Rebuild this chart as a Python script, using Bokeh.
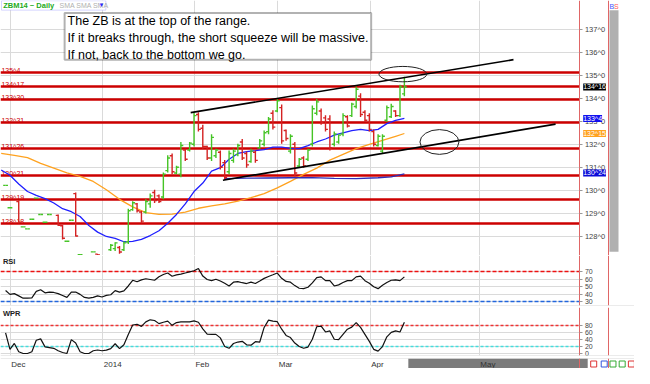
import numpy as np
import pandas as pd
from bokeh.plotting import figure
from bokeh.models import ColumnDataSource, FixedTicker, Label, BoxAnnotation, Range1d
from bokeh.layouts import column
from bokeh.embed import file_html
from bokeh.resources import INLINE
from bokeh.core.properties import value

# ---------------- data ----------------
bar_day = [0, 1, 3, 4, 5, 6, 7, 8, 9, 10, 12, 13, 14, 15, 16, 17, 20, 21,
           24, 25, 26, 27, 28, 29, 30, 31, 32, 33, 34, 35, 36, 37, 38, 39, 40, 41, 42, 43,
           44, 45, 46, 47, 48, 49, 50, 51, 52, 53, 54, 55, 56, 57, 58, 59, 60, 61, 62, 63,
           64, 65, 66, 67, 68, 69, 70, 71, 72, 73, 74, 75, 76, 77, 78, 79, 80, 81, 82, 83,
           84, 85, 86, 87, 88, 89, 90, 91]
bar_open = [130.21, 129.23, 129.50, 128.40, 128.31, 128.73, 129.65, 128.94, 128.60, 128.94, 128.90, 128.45,
            127.77, 128.69, 129.85, 127.19, 127.31, 127.21,
            127.40, 127.45, 127.50, 127.40, 127.75, 129.15, 129.40, 129.05, 129.05, 129.40, 129.90, 129.75,
            129.70, 130.85, 131.50, 130.75, 130.70, 131.75, 131.75, 132.00, 133.30, 132.70, 131.90, 131.40,
            131.50, 131.65, 131.20, 130.80, 131.30, 131.55, 132.10, 131.60, 131.25, 131.65, 131.85, 132.00,
            132.55, 133.35, 133.45, 133.60, 132.60, 131.70, 132.00, 131.05, 131.40, 131.35, 132.00, 133.35,
            133.45, 133.15, 133.10, 132.00, 132.10, 132.45, 133.20, 133.25, 133.65, 134.10, 133.40, 133.25,
            132.55, 131.95, 131.70, 133.05, 133.20, 133.45, 133.25, 134.20]
bar_high = [130.21, 129.23, 129.56, 128.40, 128.31, 128.73, 129.65, 128.94, 128.60, 128.94, 128.94, 128.48,
            127.77, 128.69, 129.90, 127.19, 127.31, 127.21,
            127.65, 127.73, 127.56, 127.77, 129.19, 129.52, 129.44, 129.10, 129.60, 129.85, 130.02, 129.81,
            130.77, 131.52, 131.60, 131.06, 132.10, 131.81, 132.10, 133.40, 133.40, 132.85, 131.94, 132.44,
            131.81, 131.73, 131.31, 131.73, 131.81, 132.02, 132.23, 131.69, 131.81, 131.73, 132.23, 132.60,
            133.19, 133.48, 133.98, 133.73, 132.65, 132.44, 132.10, 131.40, 131.48, 131.81, 133.69, 133.98,
            133.56, 133.27, 133.27, 132.56, 132.44, 133.35, 133.27, 133.81, 134.52, 134.23, 133.48, 133.35,
            132.65, 132.44, 132.44, 133.69, 133.77, 133.48, 134.60, 134.94]
bar_low = [130.21, 129.23, 128.56, 128.40, 128.31, 128.73, 129.65, 128.94, 128.60, 128.94, 128.44, 127.85,
           127.77, 128.69, 127.98, 127.19, 127.31, 127.17,
           127.35, 127.35, 127.23, 127.35, 127.65, 129.10, 129.02, 128.56, 128.98, 129.23, 129.44, 129.44,
           129.60, 130.77, 130.69, 130.69, 130.56, 131.27, 131.69, 131.90, 132.56, 131.81, 131.31, 131.27,
           131.40, 130.90, 130.44, 130.69, 131.19, 131.48, 131.31, 130.98, 131.19, 131.19, 131.81, 131.90,
           132.44, 132.65, 133.40, 132.02, 132.15, 131.60, 130.60, 130.98, 130.98, 131.27, 131.90, 133.27,
           132.85, 132.56, 131.73, 131.90, 132.02, 132.35, 132.73, 133.19, 133.56, 133.19, 132.98, 132.56,
           131.90, 131.90, 131.60, 132.98, 133.15, 133.19, 133.19, 134.10]
bar_close = [130.21, 129.23, 128.60, 128.40, 128.31, 128.73, 129.65, 128.94, 128.60, 128.94, 128.47, 127.90,
             127.77, 128.69, 128.00, 127.19, 127.31, 127.17,
             127.60, 127.70, 127.30, 127.70, 129.10, 129.45, 129.10, 128.65, 129.50, 129.75, 129.55, 129.50,
             130.70, 131.40, 130.80, 131.00, 131.95, 131.35, 132.05, 133.25, 132.65, 131.90, 131.40, 132.30,
             131.75, 131.00, 130.55, 131.60, 131.70, 131.95, 131.40, 131.10, 131.70, 131.30, 132.15, 132.50,
             133.10, 132.75, 133.90, 132.15, 132.25, 132.35, 130.75, 131.35, 131.05, 131.75, 133.55, 133.85,
             132.95, 132.65, 131.85, 132.45, 132.40, 133.25, 132.80, 133.75, 134.40, 133.30, 133.05, 132.65,
             132.00, 132.35, 132.35, 133.60, 133.65, 133.25, 134.50, 134.50]

ma_fast_day = [-1, 1, 3, 5, 7, 9, 11, 13, 15, 17, 19, 21, 23, 25, 27, 29, 31, 33, 35, 37, 39, 41, 43, 45,
               47, 49, 51, 53, 55, 57, 59, 61, 63, 65, 67, 69, 71, 73, 75, 77, 79, 81, 83, 85, 87, 89, 91]
ma_fast_val = [130.88, 130.65, 130.27, 129.94, 129.77, 129.63, 129.44, 129.19, 129.06, 128.85, 128.46, 128.17,
               127.98, 127.90, 127.75, 127.77, 127.85, 128.02, 128.23, 128.56, 128.94, 129.40, 129.94, 130.31,
               130.83, 130.98, 131.35, 131.60, 131.68, 131.72, 131.77, 131.88, 131.88, 131.82, 131.81, 131.94,
               132.10, 132.23, 132.40, 132.50, 132.60, 132.65, 132.60, 132.65, 132.90, 133.04, 133.13]
ma_slow_day = [-1, 2, 5, 8, 11, 14, 17, 20, 23, 26, 29, 32, 35, 38, 41, 44, 47, 50, 53, 56, 59, 62, 65, 68,
               71, 74, 77, 80, 83, 86, 89, 91]
ma_slow_val = [131.60, 131.52, 131.42, 131.17, 130.96, 130.75, 130.60, 130.38, 130.02, 129.60, 129.27, 129.02,
               128.94, 128.95, 129.04, 129.21, 129.31, 129.40, 129.52, 129.67, 129.85, 130.10, 130.38, 130.69,
               130.96, 131.31, 131.56, 131.81, 132.00, 132.17, 132.35, 132.47]
ma_long_day = [50, 55, 60, 65, 70, 75, 80, 85, 88, 91]
ma_long_val = [130.50, 130.52, 130.53, 130.54, 130.55, 130.51, 130.50, 130.54, 130.58, 130.71]

osc_day = list(range(0, 92))
rsi_val = [45, 40, 41, 38, 35, 35, 35.5, 44, 46, 42,
           43, 42.5, 41, 38.6, 36, 43, 43, 40, 36, 35,
           36, 38, 36.6, 38.6, 39.5, 45, 43, 44.5, 51, 58.5,
           56.5, 59, 60.5, 59.5, 58.5, 63, 66, 68, 63.8, 65.5,
           66.5, 68, 69.5, 71, 74, 64, 59.5, 58, 59.9, 57.5,
           54.5, 51, 56, 56.7, 55.3, 54.2, 56, 54.3, 57.5, 61,
           63.5, 65.7, 68, 61, 57, 56, 51.5, 48, 47.5, 49.4,
           55, 61.9, 63, 58, 58, 51, 52.5, 55.5, 58, 58,
           63, 64, 58, 54.5, 50, 47.5, 52, 55.5, 58.5, 59,
           58, 63]
wpr_val = [59.5, 12, 29, 5, 0, 0, 5, 38, 42, 19,
           17, 15, 8, 3, 0, 40, 30, 5, 0, 0,
           8, 10, 8, 9.7, 14, 28, 14, 25, 55, 82,
           84, 78, 91, 97, 95, 86, 90, 93, 81, 89,
           91, 91, 91, 94, 90, 71, 56, 55, 55, 45,
           20, 15, 28.7, 33, 35, 25, 24, 34, 33, 75,
           96, 93, 91.5, 70, 52, 46, 30, 20, 15, 18.5,
           41, 77, 79, 62, 65, 41, 40, 55, 70, 76,
           89, 75, 55, 35, 12, 7, 20, 48, 61, 65,
           62, 90]

level_val = [135.125, 134.53125, 133.9375, 132.96875, 131.8125, 130.65625, 129.59375, 128.5625]
level_lab = ["135^4", "134^17", "133^30", "132^31", "131^26", "130^21", "129^19", "128^18"]

price_ticks = [128, 129, 130, 131, 132, 133, 134, 135, 136, 137]
price_tick_lab = ["128^0", "129^0", "130^0", "131^0", "132^0", "133^0", "134^0", "135^0", "136^0", "137^0"]
rsi_ticks = [30, 40, 50, 60, 70]
wpr_ticks = [0, 20, 40, 60, 80]

month_pos = [1.07, 22.2, 43.1, 62.1, 83.2, 108.1]
month_lab = ["Dec", "2014", "Feb", "Mar", "Apr", "May"]
future_start, future_end = 91.9, 132.83

trend_x0 = [42.24, 49.59]
trend_y0 = [133.38, 130.43]
trend_x1 = [115.9, 125.5]
trend_y1 = [135.69, 132.88]

ell_x = [90.65, 99.0]
ell_y = [135.06, 132.10]
ell_w = [10.9, 8.9]
ell_h = [0.67, 1.08]

last_close = 134.5
fast_last, slow_last, long_last = 133.125, 132.46875, 130.75
marker_lab = ["134^16", "133^4", "132^15", "130^24"]

note = ("The ZB is at the top of the range.\n"
        "If it breaks through, the short squeeze will be massive.\n"
        "If not, back to the bottom we go.")

# ---------------- layout constants (day-index units) ----------------
FONT = "Liberation Sans"
UP, DOWN = "#45c425", "#d42222"
TICK = 0.55
GRID = "#dadada"
AXIS_RED = "#e06666"
FW = 634
X_START, X_AXIS, X_SIDE, X_END = -1.16, 131.05, 137.75, 143.51

df = pd.DataFrame(dict(day=bar_day, open=bar_open, high=bar_high, low=bar_low, close=bar_close))
df["color"] = np.where(df["close"] >= df["open"], UP, DOWN)
df["xl"] = df["day"] - TICK
df["xr"] = df["day"] + TICK
src = ColumnDataSource(df)

xr = Range1d(X_START, X_END)


def base_fig(h, yr, ticks, overrides=None, size="7.5px", bottom=0):
    f = figure(frame_width=FW, frame_height=h, x_range=xr, y_range=yr,
               output_backend="svg", toolbar_location=None,
               x_axis_location=None, y_axis_location="right",
               min_border_left=0, min_border_right=0, min_border_top=0, min_border_bottom=bottom)
    f.outline_line_color = None
    f.background_fill_color = "white"
    f.border_fill_color = "white"
    ax = f.yaxis[0]
    ax.fixed_location = X_AXIS
    ax.ticker = FixedTicker(ticks=ticks)
    if overrides:
        ax.major_label_overrides = overrides
    ax.major_label_text_font = FONT
    ax.major_label_text_font_size = size
    ax.major_label_text_color = "#444444"
    ax.major_tick_line_color = "#999999"
    ax.major_tick_out = 3
    ax.major_tick_in = 0
    ax.minor_tick_line_color = None
    ax.major_label_standoff = 2
    ax.axis_line_color = AXIS_RED
    f.ygrid.ticker = FixedTicker(ticks=ticks)
    f.ygrid.grid_line_color = GRID
    f.xgrid.ticker = FixedTicker(ticks=month_pos)
    f.xgrid.grid_line_color = GRID
    return f


def close_panel(f, yr):
    # blank the price-scale column and draw its borders
    f.quad(left=[X_AXIS], right=[X_END], bottom=[yr.start], top=[yr.end],
           fill_color="white", line_color=None)
    f.hspan(y=[yr.start], line_color="#d8d8d8", line_width=1)
    f.vspan(x=[X_SIDE - 0.2], line_color=AXIS_RED, line_width=1)


# ---------------- main price panel ----------------
yp = Range1d(127.15, 138.27)
p = base_fig(255, yp, price_ticks, dict(zip(price_ticks, price_tick_lab)))

p.hspan(y=level_val, line_color="#cc0000", line_width=2.4)
p.text(x=-0.95, y=level_val, text=level_lab, text_color="#cc0000",
       text_font=value(FONT), text_font_size="7px", text_baseline="bottom", y_offset=1.5)

p.line(ma_slow_day, ma_slow_val, line_color="#ffa21f", line_width=1.3)
p.line(ma_long_day, ma_long_val, line_color="#2e2eb8", line_width=1.3)
p.line(ma_fast_day, ma_fast_val, line_color="#1f1fff", line_width=1.3)

p.segment("day", "low", "day", "high", source=src, line_color="color", line_width=1.4)
p.segment("xl", "open", "day", "open", source=src, line_color="color", line_width=1.4)
p.segment("day", "close", "xr", "close", source=src, line_color="color", line_width=1.4)

p.segment(trend_x0, trend_y0, trend_x1, trend_y1, line_color="black", line_width=1.7)
p.ellipse(x=ell_x, y=ell_y, width=ell_w, height=ell_h, fill_color=None, line_color="#222222", line_width=1)

close_panel(p, yp)

# scroll column at the far right, placed in canvas pixels
p.add_layout(BoxAnnotation(left=609, right=618, left_units="screen", right_units="screen",
                           top=137.85, bottom=127.31,
                           fill_color="#b0b0b0", fill_alpha=1, line_color=None))
p.add_layout(Label(x=609, x_units="screen", y=138.02, text="B", text_color="#4455ff",
                   text_font=FONT, text_font_size="7px", text_baseline="middle"))
p.add_layout(Label(x=613.5, x_units="screen", y=138.02, text="S", text_color="#ff5555",
                   text_font=FONT, text_font_size="7px", text_baseline="middle"))

# header strip
p.add_layout(BoxAnnotation(left=-0.93, right=22.88, top=138.26, bottom=137.85,
                           fill_color="white", fill_alpha=1, line_color="#7878ff", line_width=1))
p.add_layout(Label(x=-0.55, y=138.055, text="ZBM14 ~ Daily", text_color="#22aa22",
                   text_font=FONT, text_font_size="7.5px", text_font_style="bold", text_baseline="middle"))
p.add_layout(Label(x=12.3, y=138.055, text="SMA SMA SMA", text_color="#b0b0b0",
                   text_font=FONT, text_font_size="7px", text_baseline="middle"))
p.add_layout(Label(x=21.2, y=138.055, text="\u25bc", text_color="#2a2aff",
                   text_font=FONT, text_font_size="6px", text_baseline="middle"))

# comment box
p.add_layout(BoxAnnotation(left=13.47, right=83.42, top=137.73, bottom=135.69,
                           fill_color="white", fill_alpha=1, line_color="black", line_width=2))
p.add_layout(Label(x=14.15, y=137.66, text=note, text_color="black", text_font=FONT,
                   text_font_size="12.5px", text_baseline="top", text_align="left", text_line_height=1.2))

# last-value markers on the price scale
for yv, lab, bg in zip([last_close, fast_last, slow_last, long_last], marker_lab,
                       ["black", "#1010ee", "#ffa21f", "#0a0ad8"]):
    p.add_layout(Label(x=X_AXIS + 0.75, y=yv, text=lab, text_color="white", text_font=FONT,
                       text_font_size="7px", text_baseline="middle", text_align="left",
                       background_fill_color=bg, background_fill_alpha=1))

# ---------------- RSI panel ----------------
yr_rsi = Range1d(25.4, 91)
r = base_fig(50, yr_rsi, rsi_ticks, size="7px", bottom=2)
r.hspan(y=[70], line_color="#ee1111", line_width=1.6, line_dash="4 2")
r.hspan(y=[30], line_color="#2266dd", line_width=1.6, line_dash="4 2")
r.line(osc_day, rsi_val, line_color="#111111", line_width=1.2)
close_panel(r, yr_rsi)
r.add_layout(Label(x=-0.6, y=89, text="RSI", text_color="#222222", text_font=FONT,
                   text_font_size="7.5px", text_font_style="bold", text_baseline="top"))

# ---------------- WPR panel ----------------
yr_wpr = Range1d(-5.75, 132.4)
w = base_fig(48, yr_wpr, wpr_ticks, size="7px", bottom=2)
w.hspan(y=[80], line_color="#ee3333", line_width=1.4, line_dash="3 2")
w.hspan(y=[20], line_color="#44dddd", line_width=1.4, line_dash="3 2")
w.line(osc_day, wpr_val, line_color="#111111", line_width=1.2)
close_panel(w, yr_wpr)
w.add_layout(Label(x=-0.6, y=129, text="WPR", text_color="#222222", text_font=FONT,
                   text_font_size="7.5px", text_font_style="bold", text_baseline="top"))

# ---------------- time strip ----------------
t = figure(frame_width=FW, frame_height=11, x_range=xr, y_range=Range1d(0, 1),
           output_backend="svg", toolbar_location=None, x_axis_location=None, y_axis_location=None,
           min_border=0)
t.outline_line_color = None
t.grid.visible = False
t.hspan(y=[1], line_color="#d8d8d8", line_width=1)
t.quad(left=[future_start], right=[future_end], bottom=[0], top=[1], fill_color="#7b7b7b", line_color=None)
t.text(x=month_pos, y=0.5, text=month_lab, text_font=value(FONT), text_font_size="8px",
       text_color="#333333", text_baseline="middle", text_align="left", x_offset=1)
t.vspan(x=[X_AXIS, X_SIDE - 0.2], line_color=AXIS_RED, line_width=1)
t.scatter(x=[134.2, 136.6, 138.6, 140.7, 142.8], y=[0.5] * 5, marker="square", size=6,
          fill_color="white", line_color=["#dd3333", "#3355dd", "#33aa33", "#33aa33", "#dd3333"])

layout = column(p, r, w, t, spacing=0)
open("out.html", "w").write(file_html(layout, INLINE))
